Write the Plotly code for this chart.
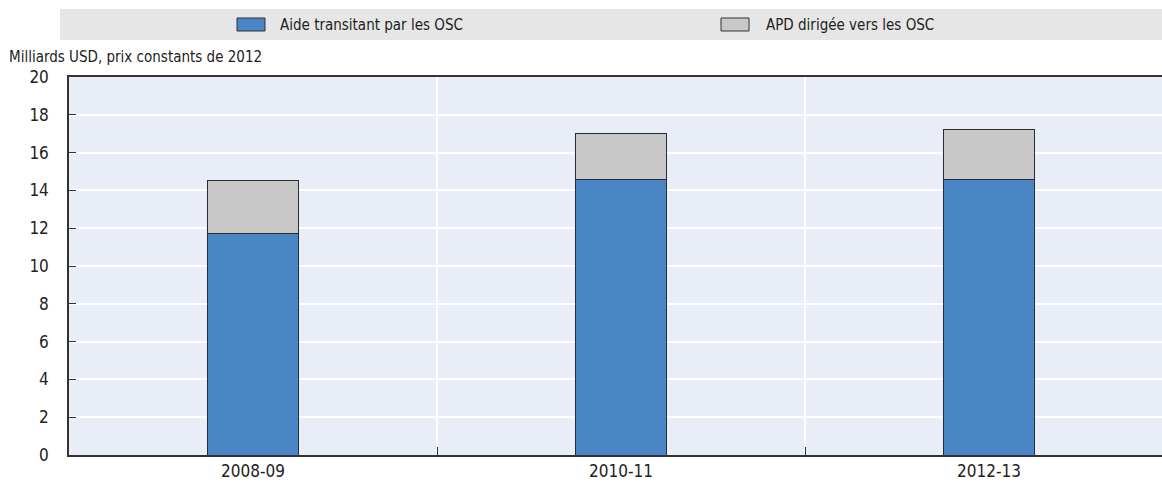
import plotly.graph_objects as go

periods = ["2008-09", "2010-11", "2012-13"]
aide_osc = [11.7, 14.6, 14.6]
apd_osc = [2.8, 2.4, 2.6]
series_names = ["Aide transitant par les OSC", "APD dirigée vers les OSC"]
series_colors = ["#4A86C5", "#C8C8C8"]

W, H = 1162, 489
ML, MR, MT, MB = 69, 0, 77, 34
FONT = "Liberation Sans Narrow, DejaVu Sans Condensed, Arial Narrow, sans-serif"


def px_x(x):
    return (x - ML) / (W - ML - MR)


def px_y(y):
    return (H - MB - y) / (H - MT - MB)


fig = go.Figure()
for name, vals, col in zip(series_names, [aide_osc, apd_osc], series_colors):
    fig.add_trace(
        go.Bar(
            x=periods,
            y=vals,
            name=name,
            width=0.247,
            marker=dict(color=col, line=dict(color="#2b2b2b", width=1)),
        )
    )

# legend band and swatches
shapes = [
    dict(type="rect", xref="paper", yref="paper",
         x0=px_x(60), x1=px_x(1162), y0=px_y(40), y1=px_y(9),
         fillcolor="#E6E6E6", line=dict(width=0), layer="below"),
]
annotations = []
for (sx, tx), name, col in zip([(237, 278), (721, 764)], series_names, series_colors):
    shapes.append(dict(type="rect", xref="paper", yref="paper",
                       x0=px_x(sx), x1=px_x(sx + 28), y0=px_y(31), y1=px_y(18),
                       fillcolor=col, line=dict(color="#333333", width=1)))
    annotations.append(dict(x=px_x(tx), y=px_y(25), xref="paper", yref="paper",
                            text=name, showarrow=False, xanchor="left", yanchor="middle",
                            font=dict(family=FONT, size=15, color="#222222")))
annotations.append(dict(x=px_x(7), y=px_y(57), xref="paper", yref="paper",
                        text="Milliards USD, prix constants de 2012", showarrow=False,
                        xanchor="left", yanchor="middle",
                        font=dict(family=FONT, size=15, color="#222222")))

fig.update_layout(
    width=W,
    height=H,
    margin=dict(l=ML, r=MR, t=MT, b=MB),
    barmode="stack",
    showlegend=False,
    paper_bgcolor="white",
    plot_bgcolor="#E9EDF7",
    font=dict(family=FONT, size=15, color="#222222"),
    shapes=shapes,
    annotations=annotations,
    xaxis=dict(
        type="category",
        tickson="boundaries",
        showgrid=True,
        gridcolor="white",
        gridwidth=1.5,
        ticks="inside",
        ticklen=8,
        tickcolor="#333333",
        showline=True,
        linecolor="#333333",
        linewidth=2,
        mirror=True,
        range=[-0.5, 2.47],
        ticklabelstandoff=0,
        tickfont=dict(size=17),
    ),
    yaxis=dict(
        range=[0, 20],
        dtick=2,
        showgrid=True,
        gridcolor="white",
        gridwidth=1.5,
        ticks="inside",
        ticklen=7,
        tickcolor="#333333",
        showline=True,
        linecolor="#333333",
        linewidth=1.5,
        zeroline=False,
        ticklabelstandoff=15,
        tickfont=dict(size=17),
    ),
)

fig.write_html(
    "out.html",
    config={"displayModeBar": False},
    post_script="document.body.style.margin='0';",
)
